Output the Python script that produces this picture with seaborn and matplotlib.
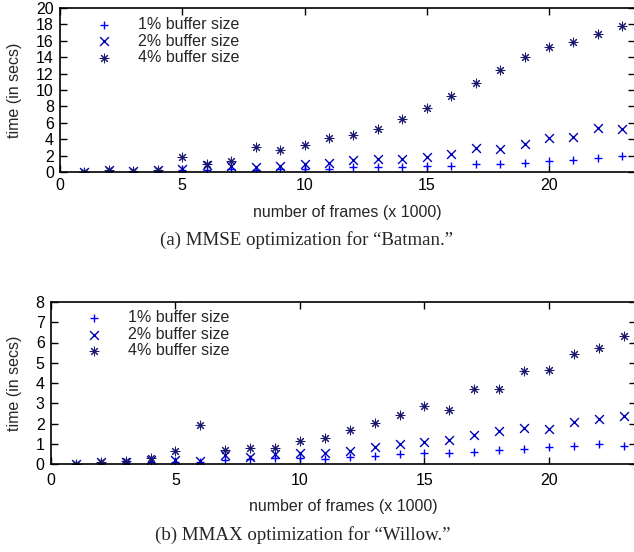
import numpy as np
import pandas as pd
import matplotlib
matplotlib.use("Agg")
import matplotlib.pyplot as plt
import seaborn as sns

# ------------------------------------------------------------------
# dados (frames x1000, tempo em segundos)
# ------------------------------------------------------------------
frames = list(range(1, 24))

batman_1 = [0.02, 0.1, 0.05, 0.15, 0.25, 0.3, 0.35, 0.3, 0.35, 0.4, 0.35, 0.55,
            0.65, 0.65, 0.75, 0.7, 0.95, 0.95, 1.1, 1.3, 1.5, 1.75, 1.95]
batman_2 = [0.05, 0.2, 0.1, 0.25, 0.4, 0.8, 0.7, 0.6, 0.75, 0.95, 1.05, 1.5,
            1.55, 1.55, 1.85, 2.25, 2.9, 2.85, 3.4, 4.1, 4.3, 5.4, 5.3]
batman_4 = [0.05, 0.2, 0.1, 0.3, 1.85, 1.03, 1.3, 3.04, 2.67, 3.35, 4.1, 4.5,
            5.3, 6.5, 7.8, 9.3, 10.85, 12.4, 14.0, 15.2, 15.8, 16.8, 17.8]

willow_1 = [0.01, 0.05, 0.08, 0.12, 0.12, 0.12, 0.2, 0.25, 0.28, 0.3, 0.25, 0.33,
            0.41, 0.48, 0.53, 0.53, 0.6, 0.7, 0.76, 0.86, 0.9, 0.97, 0.9]
willow_2 = [0.02, 0.08, 0.12, 0.2, 0.18, 0.15, 0.42, 0.37, 0.5, 0.52, 0.53, 0.66,
            0.86, 1.0, 1.1, 1.19, 1.45, 1.65, 1.78, 1.73, 2.05, 2.2, 2.38]
willow_4 = [0.02, 0.1, 0.15, 0.28, 0.65, 1.93, 0.7, 0.78, 0.78, 1.12, 1.3, 1.68,
            2.03, 2.42, 2.88, 2.68, 3.7, 3.68, 4.57, 4.65, 5.42, 5.72, 6.33]

labels = ["1% buffer size", "2% buffer size", "4% buffer size"]
cores = ["#0000ff", "#0000b4", "#191970"]
marcadores = ["+", "x", (8, 2, 0)]
espessuras = [1.0, 1.0, 0.75]

x_ticks = [0, 5, 10, 15, 20]
y_ticks_a = list(range(0, 21, 2))
y_ticks_b = list(range(0, 9))

sns.set_style("ticks")
plt.rcParams["font.family"] = ["Liberation Sans", "DejaVu Sans"]
plt.rcParams["font.size"] = 11.5

fig = plt.figure(figsize=(6.34, 5.52), dpi=100)
ax_a = fig.add_axes([60 / 634, 1 - 172 / 552, 574.6 / 634, 164 / 552])
ax_b = fig.add_axes([51 / 634, 1 - 464 / 552, 585 / 634, 162 / 552])

FS = 11.5


def desenha(ax, series, y_ticks, ylim, ylab_x, xlab_y, xpad, legend_anchor):
    for vals, lab, cor, mk, lw in zip(series, labels, cores, marcadores, espessuras):
        df = pd.DataFrame({"frames": frames, "tempo": vals})
        sns.scatterplot(data=df, x="frames", y="tempo", ax=ax, marker=mk,
                        color=cor, s=40, linewidth=lw, label=lab)
    ax.set_xlim(0, 23.5)
    ax.set_ylim(*ylim)
    ax.set_xticks(x_ticks)
    ax.set_yticks(y_ticks)
    ax.tick_params(direction="in", length=5, width=1.0, top=True, right=True,
                   labelsize=FS, colors="black")
    ax.tick_params(axis="x", pad=xpad)
    ax.tick_params(axis="y", pad=4.5)
    for sp in ax.spines.values():
        sp.set_linewidth(1.2)
        sp.set_color("black")
    ax.set_xlabel("number of frames (x 1000)", fontsize=FS, va="center")
    ax.set_ylabel("time (in secs)", fontsize=FS, va="center")
    ax.xaxis.set_label_coords(0.5, xlab_y)
    ax.yaxis.set_label_coords(ylab_x, 0.5)
    ax.legend(loc="upper left", bbox_to_anchor=legend_anchor, frameon=False,
              borderaxespad=0, borderpad=0, handlelength=1.0,
              handletextpad=1.6, labelspacing=0.1, fontsize=FS)


desenha(ax_a, [batman_1, batman_2, batman_4], y_ticks_a, (0, 20),
        (15 - 60) / 574.6, -(212 - 172) / 164, 4.5, (0.063, 0.945))
desenha(ax_b, [willow_1, willow_2, willow_4], y_ticks_b, (0, 8),
        (15 - 51) / 585, -(506 - 464) / 162, 6.5, (0.06, 0.95))

fig.text(306 / 634, 1 - 240 / 552, "(a) MMSE optimization for \u201cBatman.\u201d",
         family="Liberation Serif", fontsize=13.6, ha="center", va="center")
fig.text(303 / 634, 1 - 535 / 552, "(b) MMAX optimization for \u201cWillow.\u201d",
         family="Liberation Serif", fontsize=13.6, ha="center", va="center")

fig.savefig("out.png", dpi=100)
